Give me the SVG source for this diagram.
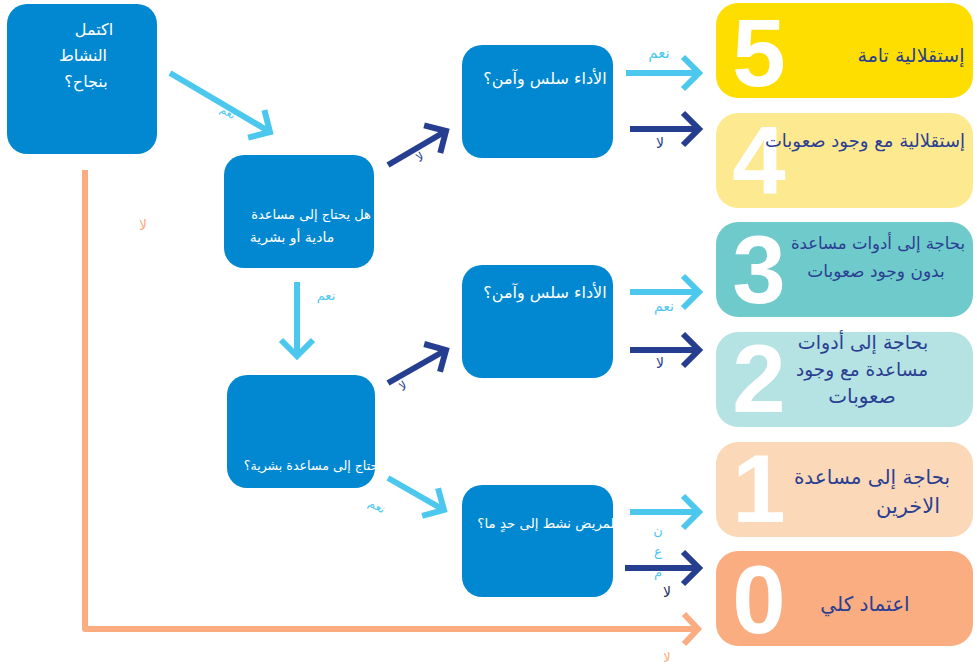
<svg xmlns="http://www.w3.org/2000/svg" width="977" height="666" viewBox="0 0 977 666">
<style>
.q{fill:#0288d0}
.qt{fill:#ffffff;font-family:"DejaVu Sans","Noto Sans",sans-serif;text-anchor:middle}
.rt{fill:#2b3f92;font-family:"DejaVu Sans","Noto Sans",sans-serif;text-anchor:middle}
.num{fill:#ffffff;font-family:"Liberation Sans",Arial,sans-serif;font-weight:bold;font-size:96px;text-anchor:middle}
.lb{font-family:"DejaVu Sans","Noto Sans",sans-serif;text-anchor:middle}
.lt{stroke:#4cc8ee;stroke-width:6;fill:none}
.dk{stroke:#263e90;stroke-width:6;fill:none}
.or{stroke:#fbac80;stroke-width:6;fill:none}
</style>
<defs>
<marker id="mL" markerUnits="userSpaceOnUse" viewBox="-20 -20 24 40" markerWidth="24" markerHeight="40" refX="0" refY="0" orient="auto" overflow="visible"><path d="M-16,-16 L0,0 L-16,16" fill="none" stroke="#4cc8ee" stroke-width="6"/></marker>
<marker id="mD" markerUnits="userSpaceOnUse" viewBox="-20 -20 24 40" markerWidth="24" markerHeight="40" refX="0" refY="0" orient="auto" overflow="visible"><path d="M-16,-16 L0,0 L-16,16" fill="none" stroke="#263e90" stroke-width="6"/></marker>
<marker id="mO" markerUnits="userSpaceOnUse" viewBox="-20 -20 24 40" markerWidth="24" markerHeight="40" refX="0" refY="0" orient="auto" overflow="visible"><path d="M-14,-15 L0,0 L-14,15" fill="none" stroke="#fbac80" stroke-width="6"/></marker>
</defs>

<g id="connectors">
<line class="lt" x1="170" y1="73" x2="270" y2="132" marker-end="url(#mL)"/>
<line class="dk" x1="388" y1="165" x2="446" y2="131" marker-end="url(#mD)"/>
<line class="lt" x1="297" y1="282" x2="297" y2="356" marker-end="url(#mL)"/>
<line class="dk" x1="388" y1="383" x2="446" y2="350" marker-end="url(#mD)"/>
<line class="lt" x1="388" y1="478" x2="444" y2="510" marker-end="url(#mL)"/>
<line class="lt" x1="626" y1="73" x2="699" y2="73" marker-end="url(#mL)"/>
<line class="dk" x1="630" y1="129" x2="699" y2="129" marker-end="url(#mD)"/>
<line class="lt" x1="630" y1="292" x2="699" y2="292" marker-end="url(#mL)"/>
<line class="dk" x1="630" y1="350" x2="699" y2="350" marker-end="url(#mD)"/>
<line class="lt" x1="630" y1="512" x2="699" y2="512" marker-end="url(#mL)"/>
<line class="dk" x1="625" y1="568" x2="699" y2="568" marker-end="url(#mD)"/>
<path class="or" d="M85,170 L85,629 L698,629" stroke-linejoin="round" marker-end="url(#mO)"/>
<text class="lb" x="228" y="116" font-size="11" fill="#4cc8ee" transform="rotate(30 228 112)">نعم</text>
<text class="lb" x="420" y="161" font-size="12" fill="#263e90" transform="rotate(-30 420 157)">لا</text>
<text class="lb" x="326" y="300" font-size="13" fill="#4cc8ee">نعم</text>
<text class="lb" x="403" y="390" font-size="12" fill="#263e90" transform="rotate(-30 403 386)">لا</text>
<text class="lb" x="377" y="510" font-size="12" fill="#4cc8ee" transform="rotate(30 377 506)">نعم</text>
<text class="lb" x="659" y="58" font-size="15" fill="#4cc8ee">نعم</text>
<text class="lb" x="660" y="148" font-size="14" fill="#263e90">لا</text>
<text class="lb" x="664" y="311" font-size="14" fill="#4cc8ee">نعم</text>
<text class="lb" x="660" y="368" font-size="14" fill="#263e90">لا</text>
<text class="lb" x="658" y="535" font-size="13" fill="#4cc8ee">ن</text>
<text class="lb" x="658" y="556" font-size="13" fill="#4cc8ee">ع</text>
<text class="lb" x="658" y="577" font-size="13" fill="#4cc8ee">م</text>
<text class="lb" x="667" y="597" font-size="14" fill="#1d2a5a">لا</text>
<text class="lb" x="143" y="230" font-size="14" fill="#fbac80">لا</text>
<text class="lb" x="667" y="662" font-size="13" fill="#fbac80">لا</text>
</g>

<g id="q-done">
<rect class="q" x="7" y="4" width="150" height="150" rx="20"/>
<text class="qt" x="94" y="35" font-size="16">اكتمل</text>
<text class="qt" x="83" y="61" font-size="16">النشاط</text>
<text class="qt" x="86" y="87" font-size="16">بنجاح؟</text>
</g>
<g id="q-help">
<rect class="q" x="224" y="155" width="150" height="113" rx="20"/>
<text class="qt" x="311" y="219" font-size="13">هل يحتاج إلى مساعدة</text>
<text class="qt" x="292" y="242" font-size="14">مادية أو بشرية</text>
</g>
<g id="q-human">
<rect class="q" x="227" y="375" width="148" height="113" rx="20"/>
<text class="qt" x="311" y="470" font-size="12.6">حتاج إلى مساعدة بشرية؟</text>
</g>
<g id="q-smooth1">
<rect class="q" x="462" y="45" width="151" height="113" rx="20"/>
<text class="qt" x="545" y="84" font-size="16">الأداء سلس وآمن؟</text>
</g>
<g id="q-smooth2">
<rect class="q" x="462" y="265" width="151" height="113" rx="20"/>
<text class="qt" x="545" y="298" font-size="16">الأداء سلس وآمن؟</text>
</g>
<g id="q-active">
<rect class="q" x="462" y="485" width="151" height="112" rx="20"/>
<text class="qt" x="546" y="528" font-size="13.4">لمريض نشط إلى حدٍ ما؟</text>
</g>

<g id="level5">
<rect x="716" y="3" width="257" height="95" rx="22" fill="#fedd00"/>
<text class="num" x="759" y="86">5</text>
<text class="rt" x="911" y="62" font-size="19">إستقلالية تامة</text>
</g>
<g id="level4">
<rect x="716" y="113" width="257" height="95" rx="22" fill="#fde98f"/>
<text class="num" x="759" y="194">4</text>
<text class="rt" x="865" y="147" font-size="18">إستقلالية مع وجود صعوبات</text>
</g>
<g id="level3">
<rect x="716" y="222" width="257" height="95" rx="22" fill="#6ecacb"/>
<text class="num" x="759" y="303">3</text>
<text class="rt" x="878" y="249" font-size="16.5">بحاجة إلى أدوات مساعدة</text>
<text class="rt" x="876" y="277" font-size="17">بدون وجود صعوبات</text>
</g>
<g id="level2">
<rect x="716" y="332" width="257" height="95" rx="22" fill="#b5e2e2"/>
<text class="num" x="759" y="412">2</text>
<text class="rt" x="863" y="349" font-size="19">بحاجة إلى أدوات</text>
<text class="rt" x="862" y="376" font-size="18.5">مساعدة مع وجود</text>
<text class="rt" x="862" y="403" font-size="20">صعوبات</text>
</g>
<g id="level1">
<rect x="716" y="442" width="257" height="95" rx="22" fill="#fbd9b8"/>
<text class="num" x="759" y="522">1</text>
<text class="rt" x="872" y="484" font-size="20">بحاجة إلى مساعدة</text>
<text class="rt" x="908" y="513" font-size="21">الاخرين</text>
</g>
<g id="level0">
<rect x="716" y="551" width="257" height="95" rx="22" fill="#f9ad80"/>
<text class="num" x="759" y="633">0</text>
<text class="rt" x="865" y="611" font-size="20">اعتماد كلي</text>
</g>
</svg>
